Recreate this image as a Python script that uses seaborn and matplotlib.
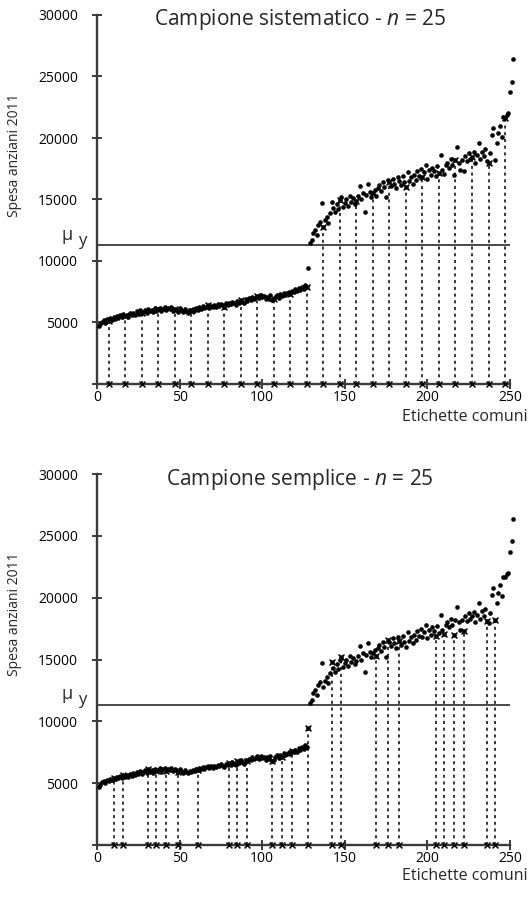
import numpy as np
import pandas as pd
import matplotlib
matplotlib.use("Agg")
import matplotlib.pyplot as plt
import seaborn as sns

# Spesa per anziani 2011, comuni ordinati per etichetta (1..N)
spesa = [
    4700, 4880, 5060, 5180, 4980, 5290, 5140, 5360, 5220, 5410,
    5300, 5520, 5380, 5600, 5450, 5700, 5520, 5640, 5480, 5760,
    5600, 5810, 5650, 5900, 5720, 5980, 5760, 5880, 6050, 5790,
    6120, 5900, 6040, 5830, 6180, 5960, 6090, 6200, 5940, 6110,
    6230, 5990, 6150, 6060, 6260, 5950, 6120, 6030, 5880, 6140,
    5990, 5850, 6070, 5920, 5800, 6010, 5900, 6100, 5960, 6180,
    6050, 6240, 6110, 6320, 6160, 6280, 6390, 6200, 6350, 6250,
    6420, 6300, 6480, 6360, 6540, 6410, 6300, 6580, 6450, 6620,
    6500, 6700, 6560, 6430, 6780, 6620, 6850, 6700, 6560, 6900,
    6760, 6980, 6840, 7100, 6920, 7050, 7160, 6980, 7200, 7060,
    7150, 6880, 7080, 6950, 7220, 6820, 6900, 7100, 7250, 7000,
    7300, 7150, 7420, 7260, 7380, 7500, 7350, 7600, 7480, 7700,
    7560, 7820, 7680, 7900, 7750, 8050, 7920,
    9430,
    11450, 11700, 12300, 12500, 12100, 12900, 13200, 14700, 12800, 13300,
    13600, 13100, 13900, 14800, 14300, 14000, 14600, 14200, 14950, 15200,
    14400, 14700, 15000, 14500, 15300, 14800, 15100, 14600, 14850, 15300,
    16100, 15000, 15500, 14000, 15400, 16300, 15600, 15200, 15500, 15800,
    15300, 15900, 16200, 15700, 16400, 16000, 15200, 16600, 16450, 16100,
    16700, 16300, 15900, 16800, 16500, 16200, 16900, 16400, 16050, 17240,
    16500, 16800, 16300, 17000, 16600, 17300, 16900, 17500, 16850, 17200,
    17800, 16700, 17400, 17000, 17600, 17300, 16900, 17700, 17150, 18600,
    17400, 17100, 17800, 18000, 17600, 18300, 17800, 17000, 18200, 19270,
    18000, 17400, 18200, 17300, 18500, 18100, 18800, 18300, 18480, 18860,
    18000, 18600, 19600, 18300, 18900, 18500, 19100, 18100, 17970, 18800,
    20240, 20800, 18200, 19600, 20400, 21000, 20100, 21700, 21650, 21900,
    22000, 23700, 24550, 26400,
]

mu_y = 11300

# etichette estratte nei due campioni (n = 25)
campione_sistematico = [7, 17, 27, 37, 47, 57, 67, 77, 87, 97, 107, 117, 127,
                        137, 147, 157, 167, 177, 187, 197, 207, 217, 227, 237, 247]
campione_semplice = [10, 16, 31, 36, 42, 49, 61, 80, 85, 91, 106, 112, 118,
                     128, 142, 148, 169, 176, 183, 205, 210, 216, 222, 236, 241]

titoli = ["Campione sistematico", "Campione semplice"]
y_ticks = [0, 5000, 10000, 15000, 20000, 25000, 30000]
x_ticks = [0, 50, 100, 150, 200, 250]

sns.set_style("ticks")
plt.rcParams["font.family"] = ["Open Sans", "DejaVu Sans"]
plt.rcParams["mathtext.fontset"] = "custom"
plt.rcParams["mathtext.it"] = "Open Sans:italic"
plt.rcParams["mathtext.rm"] = "Open Sans"

W, H = 530, 897
fig = plt.figure(figsize=(W / 100, H / 100), dpi=100)

df = pd.DataFrame({"etichetta": np.arange(1, len(spesa) + 1), "spesa": spesa})

AX_COL = "#3a3a3a"


def add_axes_px(left, top, right, bottom):
    return fig.add_axes([left / W, 1 - bottom / H, (right - left) / W, (bottom - top) / H])


def pannello(ax, campione, titolo, top):
    sel = df[df["etichetta"].isin(campione)]
    # linee tratteggiate dall'asse al valore delle unità estratte
    ax.vlines(sel["etichetta"], 0, sel["spesa"], colors="black",
              linestyles=(0, (2.0, 2.4)), linewidth=1.1, zorder=2)
    ax.axhline(mu_y, color="#3a3a3a", linewidth=1.3, zorder=2)
    sns.scatterplot(data=df, x="etichetta", y="spesa", ax=ax, color="black",
                    s=11, linewidth=0, clip_on=False, zorder=3, legend=False)
    sns.scatterplot(data=sel, x="etichetta", y="spesa", ax=ax, color="black",
                    marker="x", s=18, linewidth=1.1, zorder=4, legend=False)
    sns.scatterplot(x=sel["etichetta"].to_numpy(), y=np.zeros(len(sel)), ax=ax,
                    color="black", marker="x", s=18, linewidth=1.1,
                    clip_on=False, zorder=5, legend=False)

    ax.set_xlim(0, 250)
    ax.set_ylim(0, 30000)
    ax.set_xticks(x_ticks)
    ax.set_xticklabels([str(v) for v in x_ticks])
    ax.set_yticks(y_ticks)
    ax.set_yticklabels(["" if v == 0 else str(v) for v in y_ticks])
    ax.set_xlabel("")
    ax.set_ylabel("")
    sns.despine(ax=ax)
    for side in ("left", "bottom"):
        ax.spines[side].set_color(AX_COL)
        ax.spines[side].set_linewidth(1.7)
    ax.tick_params(direction="inout", length=7, width=1.4, color=AX_COL,
                   labelsize=10, labelcolor="black")
    ax.tick_params(axis="y", pad=10)
    ax.tick_params(axis="x", pad=1)

    y_mu = top + (30000 - mu_y) / 30000 * 369
    fig.text(300 / W, 1 - (top + 5) / H, titolo + " - $n$ = 25",
             ha="center", va="center", fontsize=15)
    fig.text(15 / W, 1 - (top + 140) / H, "Spesa anziani 2011",
             rotation=90, ha="center", va="center", fontsize=10)
    fig.text(528 / W, 1 - (top + 402) / H, "Etichette comuni",
             ha="right", va="center", fontsize=11.5)
    fig.text(67 / W, 1 - (y_mu - 10) / H, "μ", ha="center", va="center", fontsize=13)
    fig.text(82 / W, 1 - (y_mu - 4) / H, "y", ha="center", va="center", fontsize=12)


ax1 = add_axes_px(97, 15, 510, 384)
ax2 = add_axes_px(97, 474, 510, 845)
pannello(ax1, campione_sistematico, titoli[0], 15)
pannello(ax2, campione_semplice, titoli[1], 474)

fig.savefig("out.png", dpi=100)
